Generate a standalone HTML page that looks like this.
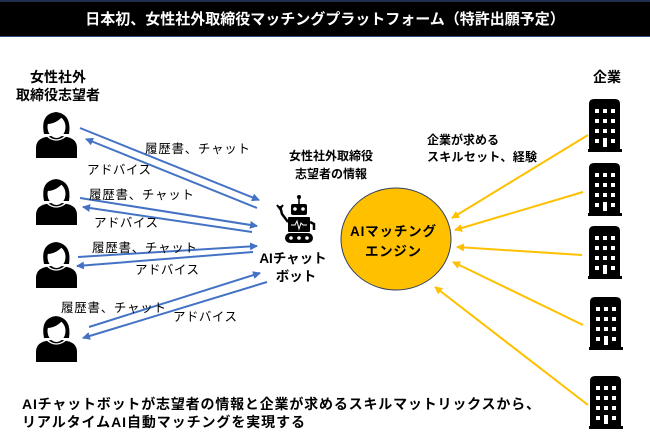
<!DOCTYPE html>
<html><head><meta charset="utf-8"><style>
html,body{margin:0;padding:0;background:#fff;}
svg{display:block;font-family:"Liberation Sans","Noto Sans CJK JP",sans-serif;}
</style></head><body>
<svg width="650" height="440" viewBox="0 0 650 440" xmlns="http://www.w3.org/2000/svg">
<defs>
<marker id="ab" markerWidth="8" markerHeight="8" refX="7" refY="4" orient="auto" markerUnits="userSpaceOnUse"><path d="M0,0 L8,4 L0,8 Z" fill="#4472C4"/></marker>
<marker id="ay" markerWidth="8" markerHeight="8" refX="7" refY="4" orient="auto" markerUnits="userSpaceOnUse"><path d="M0,0 L8,4 L0,8 Z" fill="#FFC000"/></marker>
<g id="person">
<path d="M0,46 L0,36 Q0,27 10,25 L15,24 L26,24 L31,25 Q41,27 41,36 L41,46 Z" fill="#000"/>
<path d="M8,22 Q4,2 20,0 Q36,2 33,22 Z" fill="#000"/>
<ellipse cx="20.5" cy="15" rx="9" ry="11" fill="#fff"/>
<path d="M11,12 Q20,12 27,4 Q30,9 30,12 L31,10 Q30,1 20,1 Q10,2 11,12Z" fill="#000"/>
<path d="M11,24 Q20,32 30,24" fill="none" stroke="#fff" stroke-width="1.3"/>
</g>
<g id="bld">
<path d="M1,52 L1,5 Q1,0 6,0 L27,0 Q32,0 32,5 L32,52 Z" fill="#000"/>
<rect x="0" y="50" width="34" height="3" fill="#000"/>
<g fill="#fff">
<rect x="7" y="10" width="4" height="4"/><rect x="15" y="10" width="4" height="4"/><rect x="23" y="10" width="4" height="4"/>
<rect x="7" y="20" width="4" height="4"/><rect x="15" y="20" width="4" height="4"/><rect x="23" y="20" width="4" height="4"/>
<rect x="7" y="30" width="4" height="4"/><rect x="15" y="30" width="4" height="4"/><rect x="23" y="30" width="4" height="4"/>
<rect x="7" y="40" width="4" height="4"/><rect x="15" y="39" width="4" height="9"/><rect x="23" y="40" width="4" height="4"/>
</g>
</g>
</defs>
<rect x="0" y="0" width="650" height="37" fill="#000"/>
<rect x="0" y="0" width="650" height="2" fill="#1f2f4f"/>
<rect x="0" y="36" width="650" height="1" fill="#2f4f7f"/>
<text x="325" y="24" fill="#fff" font-size="15" font-weight="bold" text-anchor="middle">日本初、女性社外取締役マッチングプラットフォーム（特許出願予定）</text>

<g font-size="14" font-weight="bold" text-anchor="middle">
<text x="58" y="82">女性社外</text>
<text x="58" y="100">取締役志望者</text>
<text x="607" y="82">企業</text>
</g>

<use href="#person" x="36" y="112"/>
<use href="#person" x="36" y="179"/>
<use href="#person" x="36" y="242"/>
<use href="#person" x="36" y="316"/>

<g stroke="#4472C4" stroke-width="2" fill="none">
<line x1="80" y1="128" x2="259" y2="200" marker-end="url(#ab)"/>
<line x1="257" y1="208" x2="86" y2="139" marker-end="url(#ab)"/>
<line x1="80" y1="198" x2="257" y2="226" marker-end="url(#ab)"/>
<line x1="252" y1="232" x2="83" y2="207" marker-end="url(#ab)"/>
<line x1="78" y1="257" x2="257" y2="246" marker-end="url(#ab)"/>
<line x1="253" y1="252" x2="77" y2="266" marker-end="url(#ab)"/>
<line x1="89" y1="327" x2="260" y2="273" marker-end="url(#ab)"/>
<line x1="267" y1="282" x2="83" y2="338" marker-end="url(#ab)"/>
</g>
<g font-size="12.5" fill="#000">
<text x="145" y="153" textLength="105">履歴書、チャット</text>
<text x="87" y="174" textLength="64">アドバイス</text>
<text x="89" y="199" textLength="105">履歴書、チャット</text>
<text x="94" y="227" textLength="64">アドバイス</text>
<text x="92" y="252" textLength="105">履歴書、チャット</text>
<text x="135" y="274" textLength="64">アドバイス</text>
<text x="61" y="312" textLength="105">履歴書、チャット</text>
<text x="173" y="321" textLength="64">アドバイス</text>
</g>

<!-- robot -->
<g fill="#000">
<line x1="299" y1="197" x2="299" y2="204" stroke="#000" stroke-width="1.5"/>
<circle cx="299" cy="197" r="2"/>
<rect x="291" y="204" width="16" height="11" rx="2"/>
<rect x="288" y="217" width="22" height="15" rx="1"/>
<rect x="285" y="233" width="28" height="10" rx="5"/>
<path d="M288,222 L282,214 L280,206" stroke="#000" stroke-width="2.5" fill="none"/>
<path d="M277,205 L280,209 L283,205" stroke="#000" stroke-width="2" fill="none"/>
<path d="M310,222 L314,224 L314,230" stroke="#000" stroke-width="2.5" fill="none"/>
</g>
<g fill="#fff">
<circle cx="295" cy="209" r="1.8"/><circle cx="303" cy="209" r="1.8"/>
<circle cx="291" cy="238" r="1.8"/><circle cx="299" cy="238" r="1.8"/><circle cx="307" cy="238" r="1.8"/>
</g>
<path d="M291,225 L295,225 L297,221 L299,229 L301,223 L303,225 L307,225" stroke="#fff" stroke-width="1" fill="none"/>

<g font-size="13.5" font-weight="bold" text-anchor="middle">
<text x="293" y="263">AIチャット</text>
<text x="296" y="281">ボット</text>
</g>
<g font-size="12" font-weight="bold" text-anchor="middle">
<text x="331" y="160">女性社外取締役</text>
<text x="331" y="178">志望者の情報</text>
</g>

<ellipse cx="396" cy="239" rx="55" ry="51" fill="#FFC000" stroke="#2f3f5f" stroke-width="1"/>
<g font-size="13.5" font-weight="bold" text-anchor="middle">
<text x="393" y="236" textLength="86">AIマッチング</text>
<text x="393" y="256" textLength="56">エンジン</text>
</g>

<g font-size="12" font-weight="bold">
<text x="427" y="144">企業が求める</text>
<text x="427" y="161" textLength="110">スキルセット、経験</text>
</g>

<use href="#bld" x="588" y="99"/>
<use href="#bld" x="588" y="163"/>
<use href="#bld" x="588" y="226"/>
<use href="#bld" x="589" y="297"/>
<use href="#bld" x="589" y="376"/>

<g stroke="#FFC000" stroke-width="2" fill="none">
<line x1="588" y1="135" x2="452" y2="218" marker-end="url(#ay)"/>
<line x1="583" y1="192" x2="455" y2="230" marker-end="url(#ay)"/>
<line x1="582" y1="255" x2="457" y2="247" marker-end="url(#ay)"/>
<line x1="583" y1="325" x2="453" y2="262" marker-end="url(#ay)"/>
<line x1="588" y1="405" x2="435" y2="287" marker-end="url(#ay)"/>
</g>

<g font-size="14" font-weight="bold">
<text x="22" y="409" textLength="518">AIチャットボットが志望者の情報と企業が求めるスキルマットリックスから、</text>
<text x="22" y="427" textLength="283">リアルタイムAI自動マッチングを実現する</text>
</g>
</svg>
</body></html>
